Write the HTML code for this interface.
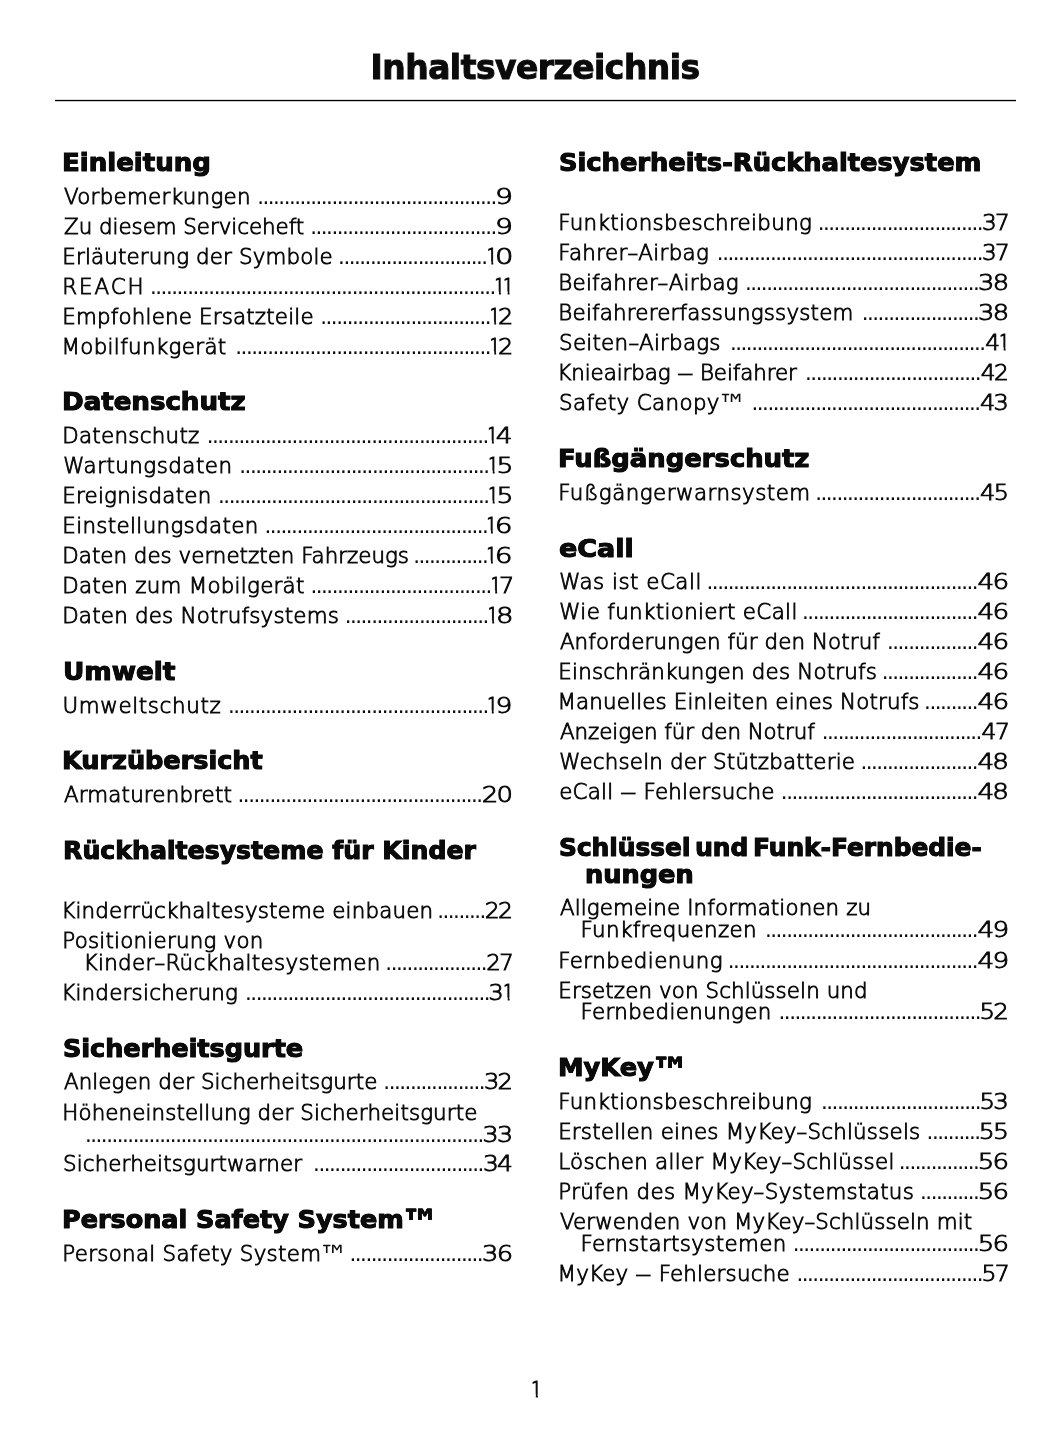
<!DOCTYPE html>
<html lang="de"><head><meta charset="utf-8"><title>Inhaltsverzeichnis</title>
<style>
html,body{margin:0;padding:0;background:#fff}
body{width:1056px;height:1449px;position:relative;overflow:hidden;color:#0b0b0b;will-change:transform;
 font-family:"DejaVu Sans Light","DejaVu Sans","Liberation Sans",sans-serif}
.t,.h,.l,.d,.n,.pg{position:absolute;white-space:nowrap;margin:0;padding:0}
.t{font-family:"DejaVu Sans","Liberation Sans",sans-serif;font-weight:700;
 font-size:32.9px;line-height:40px;height:40px;-webkit-text-stroke:1.0px #0b0b0b}
.h{font-family:"DejaVu Sans","Liberation Sans",sans-serif;font-weight:700;font-size:25.3px;line-height:30px;height:30px;
 -webkit-text-stroke:1.0px #0b0b0b;text-shadow:0.3px 0 0 #0b0b0b,-0.3px 0 0 #0b0b0b}
.l,.n,.pg{font-weight:200;font-size:21.4px;line-height:30px;height:30px;-webkit-text-stroke:0.9px #0b0b0b}
.n{text-align:right;transform-origin:100% 50%;letter-spacing:-1.5px}
.n .o{transform-origin:100% 50%}
.h{transform-origin:0 50%}
.d{font-family:"DejaVu Sans","Liberation Sans",sans-serif;font-weight:400;font-size:21.4px;line-height:30px;height:30px;
 text-align:right;letter-spacing:-1.493px}
.hy{display:inline-block;transform:scaleX(1.45);margin:0 1.4px}
.ds{display:inline-block;transform:scaleX(1.55);margin:0 2.7px}
.tm{font-family:"DejaVu Sans","Liberation Sans",sans-serif;font-weight:400;font-size:29px;line-height:0;position:relative;top:5.2px;margin-left:-2.2px;-webkit-text-stroke:0}
.htm{font-size:39px;line-height:0;position:relative;top:9px;margin-left:-3.5px;-webkit-text-stroke:0.5px #0b0b0b}
.rule{position:absolute;left:55px;top:99px;width:961px;height:3px;background:linear-gradient(to bottom,rgba(0,0,0,.14) 0,rgba(0,0,0,.14) 1px,#000 1px,#000 2px,rgba(0,0,0,.2) 2px,rgba(0,0,0,.2) 3px)}
.o{display:inline-block;width:8.40px;text-indent:-1.68px;clip-path:polygon(1.55px 0,10px 0,10px 19.40px,6.62px 19.40px,6.62px 30px,4.72px 30px,4.72px 19.40px,1.55px 19.40px)}
</style></head><body>
<div class="t" style="left:370.50px;top:48px;letter-spacing:-0.475px">Inhaltsverzeichnis</div>
<div class="rule"></div>
<main>
<section>
<div class="h" style="left:62.31px;top:148.00px;transform:scaleX(1.0295)">Einleitung</div>
<div class="l" style="left:63.89px;top:182.00px;letter-spacing:0.303px">Vorbemerkungen</div>
<div class="d" style="right:560.08px;top:182.00px">.............................................</div>
<div class="n" style="right:544.97px;top:182.00px;transform:scaleX(1.3239)">9</div>
<div class="l" style="left:64.08px;top:212.00px;letter-spacing:-0.040px">Zu diesem Serviceheft</div>
<div class="d" style="right:560.08px;top:212.00px">...................................</div>
<div class="n" style="right:544.97px;top:212.00px;transform:scaleX(1.3239)">9</div>
<div class="l" style="left:62.31px;top:242.00px;letter-spacing:0.148px">Erläuterung der Symbole</div>
<div class="d" style="right:569.33px;top:242.00px">............................</div>
<div class="n" style="right:544.99px;top:242.00px;transform:scaleX(1.3605)"><span class="o" style="transform:scaleX(0.7350)">1</span>0</div>
<div class="l" style="left:62.33px;top:272.00px;letter-spacing:1.925px">REACH</div>
<div class="d" style="right:561.08px;top:272.00px">.................................................................</div>
<div class="n" style="right:544.04px;top:272.00px;transform:scaleX(1.0881)"><span class="o" style="transform:scaleX(0.9191)">1</span><span class="o" style="transform:scaleX(0.9191)">1</span></div>
<div class="l" style="left:62.35px;top:302.00px;letter-spacing:0.177px">Empfohlene Ersatzteile</div>
<div class="d" style="right:565.98px;top:302.00px">................................</div>
<div class="n" style="right:544.23px;top:302.00px;transform:scaleX(1.1220)"><span class="o" style="transform:scaleX(0.8913)">1</span>2</div>
<div class="l" style="left:61.45px;top:332.00px;letter-spacing:0.343px">Mobilfunkgerät</div>
<div class="d" style="right:565.98px;top:332.00px">................................................</div>
<div class="n" style="right:544.23px;top:332.00px;transform:scaleX(1.1220)"><span class="o" style="transform:scaleX(0.8913)">1</span>2</div>
<div class="h" style="left:62.31px;top:387.00px;transform:scaleX(1.0301)">Datenschutz</div>
<div class="l" style="left:62.18px;top:421.00px;letter-spacing:0.278px">Datenschutz</div>
<div class="d" style="right:568.08px;top:421.00px">.....................................................</div>
<div class="n" style="right:545.25px;top:421.00px;transform:scaleX(1.2278)"><span class="o" style="transform:scaleX(0.8144)">1</span>4</div>
<div class="l" style="left:63.35px;top:451.00px;letter-spacing:0.472px">Wartungsdaten</div>
<div class="d" style="right:567.33px;top:451.00px">...............................................</div>
<div class="n" style="right:544.08px;top:451.00px;transform:scaleX(1.2466)"><span class="o" style="transform:scaleX(0.8022)">1</span>5</div>
<div class="l" style="left:62.18px;top:481.00px;letter-spacing:0.238px">Ereignisdaten</div>
<div class="d" style="right:567.33px;top:481.00px">...................................................</div>
<div class="n" style="right:544.08px;top:481.00px;transform:scaleX(1.2466)"><span class="o" style="transform:scaleX(0.8022)">1</span>5</div>
<div class="l" style="left:62.31px;top:511.00px;letter-spacing:0.344px">Einstellungsdaten</div>
<div class="d" style="right:568.58px;top:511.00px">..........................................</div>
<div class="n" style="right:545.10px;top:511.00px;transform:scaleX(1.3100)"><span class="o" style="transform:scaleX(0.7634)">1</span>6</div>
<div class="l" style="left:62.31px;top:541.00px;letter-spacing:0.012px">Daten des vernetzten Fahrzeugs</div>
<div class="d" style="right:568.58px;top:541.00px">..............</div>
<div class="n" style="right:545.10px;top:541.00px;transform:scaleX(1.3100)"><span class="o" style="transform:scaleX(0.7634)">1</span>6</div>
<div class="l" style="left:62.18px;top:571.00px;letter-spacing:0.263px">Daten zum Mobilgerät</div>
<div class="d" style="right:565.18px;top:571.00px">..................................</div>
<div class="n" style="right:543.90px;top:571.00px;transform:scaleX(1.1219)"><span class="o" style="transform:scaleX(0.8913)">1</span>7</div>
<div class="l" style="left:62.18px;top:601.00px;letter-spacing:0.216px">Daten des Notrufsystems</div>
<div class="d" style="right:568.08px;top:601.00px">...........................</div>
<div class="n" style="right:544.55px;top:601.00px;transform:scaleX(1.2861)"><span class="o" style="transform:scaleX(0.7776)">1</span>8</div>
<div class="h" style="left:62.61px;top:657.00px;transform:scaleX(1.0390)">Umwelt</div>
<div class="l" style="left:62.55px;top:691.00px;letter-spacing:0.634px">Umweltschutz</div>
<div class="d" style="right:568.08px;top:691.00px">.................................................</div>
<div class="n" style="right:545.03px;top:691.00px;transform:scaleX(1.2426)"><span class="o" style="transform:scaleX(0.8048)">1</span>9</div>
<div class="h" style="left:62.31px;top:746.00px;transform:scaleX(1.0088)">Kurzübersicht</div>
<div class="l" style="left:64.01px;top:780.00px;letter-spacing:0.155px">Armaturenbrett</div>
<div class="d" style="right:574.33px;top:780.00px">..............................................</div>
<div class="n" style="right:545.05px;top:780.00px;transform:scaleX(1.2131)">20</div>
<div class="h" style="left:62.61px;top:836.00px;transform:scaleX(0.9955)">Rückhaltesysteme für Kinder</div>
<div class="l" style="left:61.27px;top:896.00px;letter-spacing:0.174px">Kinderrückhaltesysteme einbauen</div>
<div class="d" style="right:571.08px;top:896.00px">.........</div>
<div class="n" style="right:544.32px;top:896.00px;transform:scaleX(1.0962)">22</div>
<div class="l" style="left:62.32px;top:926.00px;letter-spacing:0.218px">Positionierung von</div>
<div class="l" style="left:83.57px;top:948.00px;letter-spacing:0.319px">Kinder<span class="hy">-</span>Rückhaltesystemen</div>
<div class="d" style="right:569.83px;top:948.00px">...................</div>
<div class="n" style="right:543.73px;top:948.00px;transform:scaleX(1.0678)">27</div>
<div class="l" style="left:61.14px;top:978.00px;letter-spacing:0.239px">Kindersicherung</div>
<div class="d" style="right:566.83px;top:978.00px">..............................................</div>
<div class="n" style="right:544.22px;top:978.00px;transform:scaleX(1.1187)">3<span class="o" style="transform:scaleX(0.8939)">1</span></div>
<div class="h" style="left:63.13px;top:1034.00px;transform:scaleX(1.0075)">Sicherheitsgurte</div>
<div class="l" style="left:64.03px;top:1067.00px;letter-spacing:0.074px">Anlegen der Sicherheitsgurte</div>
<div class="d" style="right:571.83px;top:1067.00px">...................</div>
<div class="n" style="right:544.66px;top:1067.00px;transform:scaleX(1.1281)">32</div>
<div class="l" style="left:62.31px;top:1098.00px;letter-spacing:0.108px">Höheneinstellung der Sicherheitsgurte</div>
<div class="d" style="right:573.08px;top:1120.00px">...........................................................................</div>
<div class="n" style="right:544.61px;top:1120.00px;transform:scaleX(1.1842)">33</div>
<div class="l" style="left:63.01px;top:1149.00px;letter-spacing:0.120px">Sicherheitsgurtwarner</div>
<div class="d" style="right:573.08px;top:1149.00px">................................</div>
<div class="n" style="right:545.20px;top:1149.00px;transform:scaleX(1.1660)">34</div>
<div class="h" style="left:62.31px;top:1205.00px;transform:scaleX(1.0069)">Personal Safety System<span class="htm">™</span></div>
<div class="l" style="left:62.32px;top:1239.00px;letter-spacing:0.284px">Personal Safety System<span class="tm">™</span></div>
<div class="d" style="right:573.83px;top:1239.00px">.........................</div>
<div class="n" style="right:544.99px;top:1239.00px;transform:scaleX(1.2013)">36</div>
</section>
<section>
<div class="h" style="left:559.12px;top:148.00px;transform:scaleX(1.0165)">Sicherheits-Rückhaltesystem</div>
<div class="l" style="left:558.26px;top:208.00px;letter-spacing:0.337px">Funktionsbeschreibung</div>
<div class="d" style="right:73.83px;top:208.00px">...............................</div>
<div class="n" style="right:48.25px;top:208.00px;transform:scaleX(1.0826)">37</div>
<div class="l" style="left:558.29px;top:238.00px;letter-spacing:0.322px">Fahrer<span class="hy">-</span>Airbag</div>
<div class="d" style="right:73.83px;top:238.00px">..................................................</div>
<div class="n" style="right:48.25px;top:238.00px;transform:scaleX(1.0826)">37</div>
<div class="l" style="left:558.32px;top:268.00px;letter-spacing:0.223px">Beifahrer<span class="hy">-</span>Airbag</div>
<div class="d" style="right:77.58px;top:268.00px">............................................</div>
<div class="n" style="right:49.24px;top:268.00px;transform:scaleX(1.2034)">38</div>
<div class="l" style="left:558.33px;top:298.00px;letter-spacing:0.191px">Beifahrererfassungssystem</div>
<div class="d" style="right:77.58px;top:298.00px">......................</div>
<div class="n" style="right:49.24px;top:298.00px;transform:scaleX(1.2034)">38</div>
<div class="l" style="left:559.08px;top:328.00px;letter-spacing:0.236px">Seiten<span class="hy">-</span>Airbags</div>
<div class="d" style="right:71.33px;top:328.00px">................................................</div>
<div class="n" style="right:48.32px;top:328.00px;transform:scaleX(1.0886)">4<span class="o" style="transform:scaleX(0.9186)">1</span></div>
<div class="l" style="left:557.32px;top:358.00px;letter-spacing:-0.086px">Knieairbag <span class="ds">–</span> Beifahrer</div>
<div class="d" style="right:75.83px;top:358.00px">.................................</div>
<div class="n" style="right:48.91px;top:358.00px;transform:scaleX(1.0884)">42</div>
<div class="l" style="left:559.03px;top:388.00px;letter-spacing:0.362px">Safety Canopy<span class="tm">™</span></div>
<div class="d" style="right:76.33px;top:388.00px">...........................................</div>
<div class="n" style="right:48.90px;top:388.00px;transform:scaleX(1.1237)">43</div>
<div class="h" style="left:558.31px;top:444.00px;transform:scaleX(1.0218)">Fußgängerschutz</div>
<div class="l" style="left:558.26px;top:478.00px;letter-spacing:0.475px">Fußgängerwarnsystem</div>
<div class="d" style="right:76.33px;top:478.00px">...............................</div>
<div class="n" style="right:48.53px;top:478.00px;transform:scaleX(1.1190)">45</div>
<div class="h" style="left:559.26px;top:534.00px;transform:scaleX(1.0653)">eCall</div>
<div class="l" style="left:559.13px;top:567.00px;letter-spacing:0.500px">Was ist eCall</div>
<div class="d" style="right:78.83px;top:567.00px">...................................................</div>
<div class="n" style="right:49.20px;top:567.00px;transform:scaleX(1.2249)">46</div>
<div class="l" style="left:559.35px;top:597.00px;letter-spacing:0.344px">Wie funktioniert eCall</div>
<div class="d" style="right:78.83px;top:597.00px">.................................</div>
<div class="n" style="right:49.20px;top:597.00px;transform:scaleX(1.2249)">46</div>
<div class="l" style="left:559.90px;top:627.00px;letter-spacing:0.096px">Anforderungen für den Notruf</div>
<div class="d" style="right:78.83px;top:627.00px">.................</div>
<div class="n" style="right:49.20px;top:627.00px;transform:scaleX(1.2249)">46</div>
<div class="l" style="left:558.31px;top:657.00px;letter-spacing:0.206px">Einschränkungen des Notrufs</div>
<div class="d" style="right:78.83px;top:657.00px">..................</div>
<div class="n" style="right:49.20px;top:657.00px;transform:scaleX(1.2249)">46</div>
<div class="l" style="left:557.47px;top:687.00px;letter-spacing:0.154px">Manuelles Einleiten eines Notrufs</div>
<div class="d" style="right:78.83px;top:687.00px">..........</div>
<div class="n" style="right:49.20px;top:687.00px;transform:scaleX(1.2249)">46</div>
<div class="l" style="left:559.90px;top:717.00px;letter-spacing:-0.053px">Anzeigen für den Notruf</div>
<div class="d" style="right:75.08px;top:717.00px">..............................</div>
<div class="n" style="right:48.02px;top:717.00px;transform:scaleX(1.0989)">47</div>
<div class="l" style="left:559.35px;top:747.00px;letter-spacing:0.186px">Wechseln der Stützbatterie</div>
<div class="d" style="right:78.83px;top:747.00px">......................</div>
<div class="n" style="right:49.12px;top:747.00px;transform:scaleX(1.2275)">48</div>
<div class="l" style="left:559.24px;top:777.00px;letter-spacing:0.194px">eCall <span class="ds">–</span> Fehlersuche</div>
<div class="d" style="right:78.83px;top:777.00px">.....................................</div>
<div class="n" style="right:49.12px;top:777.00px;transform:scaleX(1.2275)">48</div>
<div class="h" style="left:559.25px;top:833.00px;transform:scaleX(0.9819);word-spacing:-4.00px">Schlüssel und Funk-Fernbedie-</div>
<div class="h" style="left:585.15px;top:860.00px;transform:scaleX(1.0123)">nungen</div>
<div class="l" style="left:559.90px;top:893.00px;letter-spacing:0.119px">Allgemeine Informationen zu</div>
<div class="l" style="left:580.59px;top:915.00px;letter-spacing:0.358px">Funkfrequenzen</div>
<div class="d" style="right:78.83px;top:915.00px">........................................</div>
<div class="n" style="right:49.29px;top:915.00px;transform:scaleX(1.2252)">49</div>
<div class="l" style="left:558.15px;top:946.00px;letter-spacing:0.446px">Fernbedienung</div>
<div class="d" style="right:78.83px;top:946.00px">...............................................</div>
<div class="n" style="right:49.29px;top:946.00px;transform:scaleX(1.2252)">49</div>
<div class="l" style="left:558.31px;top:976.00px;letter-spacing:0.101px">Ersetzen von Schlüsseln und</div>
<div class="l" style="left:580.47px;top:997.00px;letter-spacing:0.352px">Fernbedienungen</div>
<div class="d" style="right:75.83px;top:997.00px">......................................</div>
<div class="n" style="right:49.18px;top:997.00px;transform:scaleX(1.1455)">52</div>
<div class="h" style="left:558.31px;top:1053.00px;transform:scaleX(1.0146)">MyKey<span class="htm">™</span></div>
<div class="l" style="left:558.26px;top:1087.00px;letter-spacing:0.337px">Funktionsbeschreibung</div>
<div class="d" style="right:75.83px;top:1087.00px">..............................</div>
<div class="n" style="right:48.88px;top:1087.00px;transform:scaleX(1.1441)">53</div>
<div class="l" style="left:558.14px;top:1117.00px;letter-spacing:0.212px">Erstellen eines MyKey<span class="hy">-</span>Schlüssels</div>
<div class="d" style="right:76.33px;top:1117.00px">..........</div>
<div class="n" style="right:48.45px;top:1117.00px;transform:scaleX(1.1752)">55</div>
<div class="l" style="left:558.29px;top:1147.00px;letter-spacing:0.270px">Löschen aller MyKey<span class="hy">-</span>Schlüssel</div>
<div class="d" style="right:77.58px;top:1147.00px">...............</div>
<div class="n" style="right:49.24px;top:1147.00px;transform:scaleX(1.2138)">56</div>
<div class="l" style="left:558.32px;top:1177.00px;letter-spacing:0.324px">Prüfen des MyKey<span class="hy">-</span>Systemstatus</div>
<div class="d" style="right:77.58px;top:1177.00px">...........</div>
<div class="n" style="right:49.24px;top:1177.00px;transform:scaleX(1.2138)">56</div>
<div class="l" style="left:559.91px;top:1207.00px;letter-spacing:0.126px">Verwenden von MyKey<span class="hy">-</span>Schlüsseln mit</div>
<div class="l" style="left:580.59px;top:1229.00px;letter-spacing:0.354px">Fernstartsystemen</div>
<div class="d" style="right:77.58px;top:1229.00px">...................................</div>
<div class="n" style="right:49.24px;top:1229.00px;transform:scaleX(1.2138)">56</div>
<div class="l" style="left:557.55px;top:1259.00px;letter-spacing:0.195px">MyKey <span class="ds">–</span> Fehlersuche</div>
<div class="d" style="right:73.83px;top:1259.00px">...................................</div>
<div class="n" style="right:48.28px;top:1259.00px;transform:scaleX(1.1069)">57</div>
</section>
</main>
<div class="pg" style="left:531.13px;top:1375.00px"><span class="o">1</span></div>
</body></html>
